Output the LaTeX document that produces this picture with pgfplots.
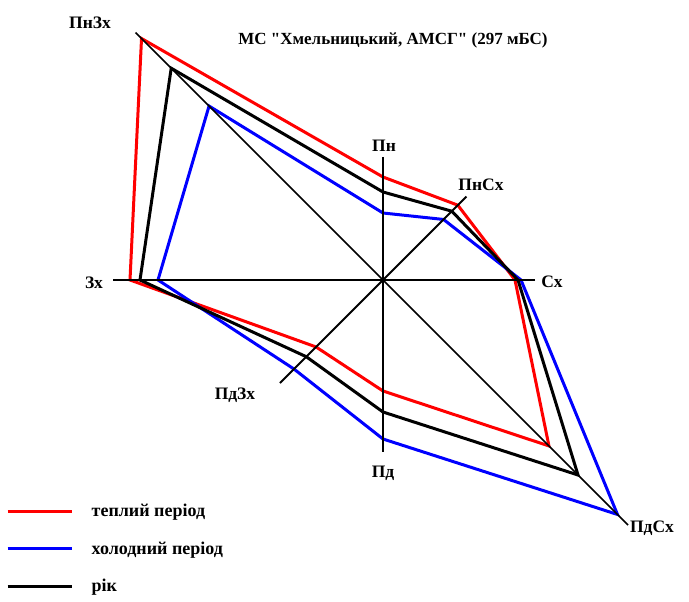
\documentclass[border=0pt]{standalone}
\usepackage{fontspec}
\setmainfont{Liberation Serif}[Ligatures=TeXOff]
\usepackage{pgfplots}
\pgfplotsset{compat=1.18}
\begin{document}
\begin{tikzpicture}
\begin{axis}[
  width=689pt, height=602pt, scale only axis,
  xmin=-383, xmax=306, ymin=-322, ymax=280,
  hide axis, clip=false,
  font=\fontsize{17.5}{20}\selectfont\bfseries,
  legend style={at={(axis cs:-377,-224)}, anchor=north west, draw=none, fill=none,
    inner sep=0pt, row sep=23.5pt, cells={anchor=west},
    nodes={inner sep=0pt, font=\fontsize{18}{20}\selectfont\bfseries}},
  legend image code/.code={\draw[#1] (0pt,0pt) -- (64pt,0pt); \path[draw=none,fill=none] (0pt,0pt) -- (84pt,0pt);},
]
% warm period (red)
\addplot[red, line width=3pt, data cs=polar] coordinates {
  (90,103) (45,105.8) (0,132) (-45,234.7) (-90,111) (-135,94.7) (180,253) (135,341.5) (90,103)};
\addlegendentry{теплий період}
% cold period (blue)
\addplot[blue, line width=3pt, data cs=polar] coordinates {
  (90,67) (45,85.6) (0,138) (-45,331.6) (-90,159) (-135,125.9) (180,225) (135,246) (90,67)};
\addlegendentry{холодний період}
% year (black)
\addplot[black, line width=3pt, data cs=polar] coordinates {
  (90,88) (45,97.3) (0,135) (-45,275.8) (-90,132) (-135,108.5) (180,243) (135,299.5) (90,88)};
\addlegendentry{рік}
% direction axes
\addplot[black, line width=2.5pt, data cs=polar, forget plot] coordinates {(90,123) (-90,172)};
\addplot[black, line width=2.5pt, data cs=polar, forget plot] coordinates {(0,152) (180,270)};
\addplot[black, line width=2pt, data cs=polar, forget plot] coordinates {(45,118) (-135,145.7)};
\addplot[black, line width=1.6pt, data cs=polar, forget plot] coordinates {(135,350) (-45,346.5)};
% labels
\node at (axis cs:-293,257) {ПнЗх};
\node at (axis cs:1,134) {Пн};
\node at (axis cs:98,95) {ПнСх};
\node at (axis cs:169,-2) {Сх};
\node at (axis cs:269,-248) {ПдСх};
\node at (axis cs:0,-193) {Пд};
\node at (axis cs:-148,-115) {ПдЗх};
\node at (axis cs:-289,-3) {Зх};
\node at (axis cs:10,240) {\fontsize{17}{20}\selectfont МС "Хмельницький, АМСГ" (297 мБС)};
\end{axis}
\pgfresetboundingbox
\path (current axis.south west) rectangle (current axis.north east);
\end{tikzpicture}
\end{document}
